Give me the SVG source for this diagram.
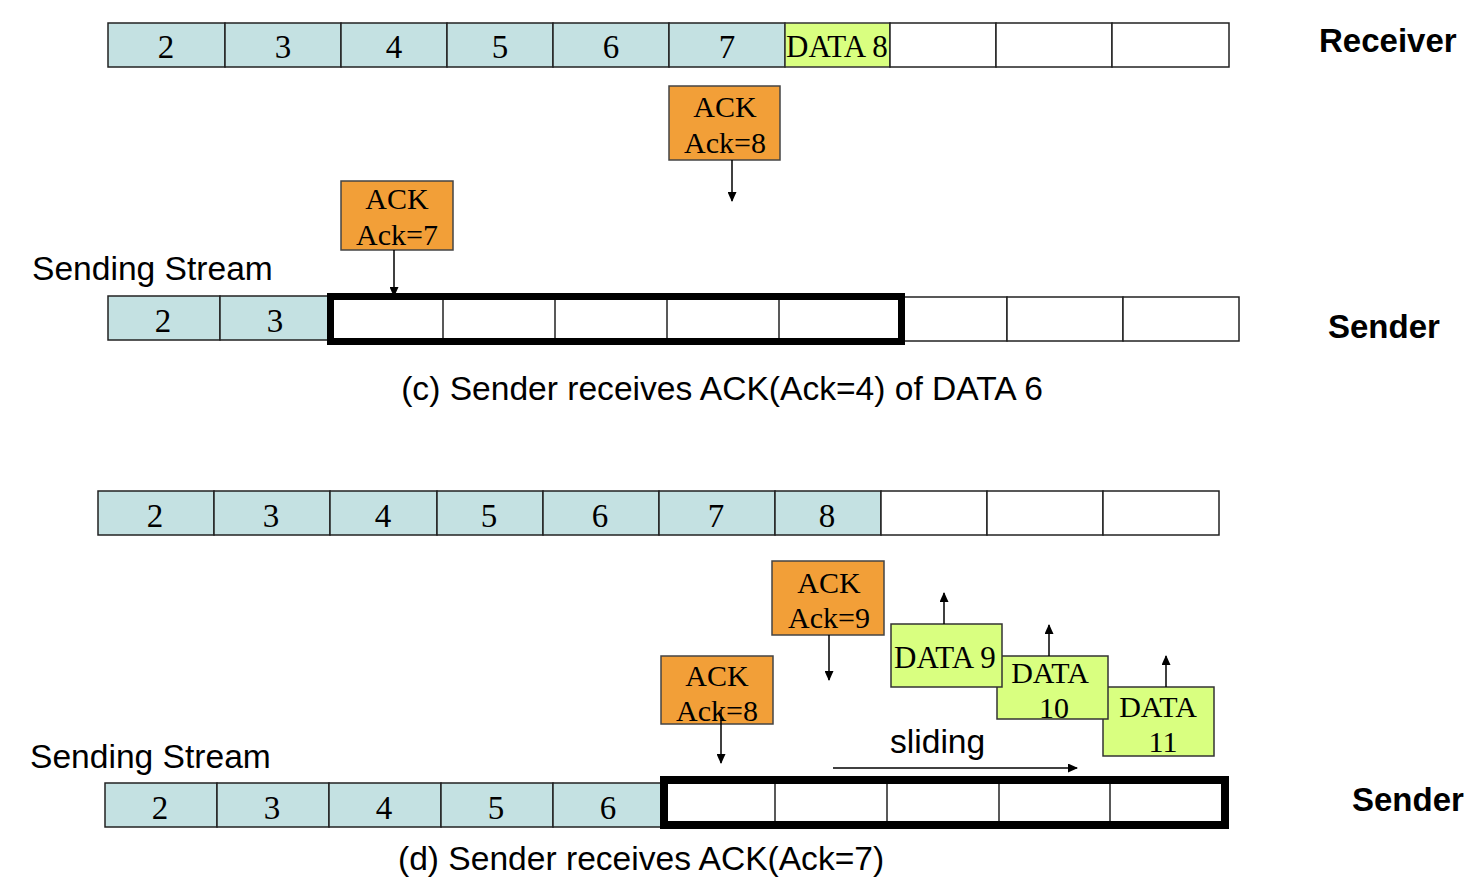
<svg xmlns="http://www.w3.org/2000/svg" width="1466" height="880" viewBox="0 0 1466 880">
<defs>
<style>
.cb{fill:#c4e1e2;stroke:#222;stroke-width:1.5}
.cw{fill:#fff;stroke:#222;stroke-width:1.5}
.cg{fill:#d9ff80;stroke:#333;stroke-width:1.5}
.co{fill:#f29f38;stroke:#444;stroke-width:1.5}
.win{fill:none;stroke:#000}
.dv{stroke:#222;stroke-width:1.5}
.s{font-family:"Liberation Serif","Times New Roman",serif;font-size:30px;fill:#000}
.n{font-size:33px}
.m{text-anchor:middle}
.a{font-family:"Liberation Sans",Arial,sans-serif;font-size:33.6px;fill:#000}
.b{font-family:"Liberation Sans",Arial,sans-serif;font-size:33px;font-weight:bold;fill:#000}
.ln{stroke:#000;stroke-width:1.5;fill:none;marker-end:url(#ah)}
</style>
<marker id="ah" viewBox="0 0 10 10" refX="9" refY="5" markerWidth="10" markerHeight="9" markerUnits="userSpaceOnUse" orient="auto" preserveAspectRatio="none">
<path d="M0,0 L10,5 L0,10 z" fill="#000"/>
</marker>
</defs>
<rect width="1466" height="880" fill="#fff"/>

<g id="recv-c">
<rect class="cb" x="108" y="23" width="117" height="44"/>
<rect class="cb" x="225" y="23" width="116" height="44"/>
<rect class="cb" x="341" y="23" width="106" height="44"/>
<rect class="cb" x="447" y="23" width="106" height="44"/>
<rect class="cb" x="553" y="23" width="116" height="44"/>
<rect class="cb" x="669" y="23" width="116" height="44"/>
<rect class="cg" x="785" y="23" width="105" height="44"/>
<rect class="cw" x="890" y="23" width="106" height="44"/>
<rect class="cw" x="996" y="23" width="116" height="44"/>
<rect class="cw" x="1112" y="23" width="117" height="44"/>
<text class="s n m" x="166" y="58">2</text>
<text class="s n m" x="283" y="58">3</text>
<text class="s n m" x="394" y="58">4</text>
<text class="s n m" x="500" y="58">5</text>
<text class="s n m" x="611" y="58">6</text>
<text class="s n m" x="727" y="58">7</text>
<text class="s" x="786" y="57" style="font-size:31px">DATA 8</text>
</g>
<text class="b" x="1319" y="52">Receiver</text>

<g id="ack8-c">
<rect class="co" x="669" y="86" width="111" height="74"/>
<text class="s m" x="725" y="117">ACK</text>
<text class="s m" x="725" y="153">Ack=8</text>
</g>
<g id="ack7-c">
<rect class="co" x="341" y="181" width="112" height="69"/>
<text class="s m" x="397" y="209">ACK</text>
<text class="s m" x="397" y="245">Ack=7</text>
</g>

<text class="a" x="32" y="280">Sending Stream</text>
<g id="send-c">
<rect class="cb" x="108" y="296" width="112" height="44"/>
<rect class="cb" x="220" y="296" width="110" height="44"/>
<text class="s n m" x="163" y="332">2</text>
<text class="s n m" x="275" y="332">3</text>
<rect class="cw" x="903" y="297" width="104" height="44"/>
<rect class="cw" x="1007" y="297" width="116" height="44"/>
<rect class="cw" x="1123" y="297" width="116" height="44"/>
<line class="dv" x1="443" y1="299" x2="443" y2="338"/>
<line class="dv" x1="555" y1="299" x2="555" y2="338"/>
<line class="dv" x1="667" y1="299" x2="667" y2="338"/>
<line class="dv" x1="779" y1="299" x2="779" y2="338"/>
<rect class="win" x="330.5" y="296.5" width="571" height="45" stroke-width="7"/>
</g>
<text class="b" x="1328" y="338">Sender</text>
<text class="a m" x="722" y="400">(c) Sender receives ACK(Ack=4) of DATA 6</text>

<g id="recv-d">
<rect class="cb" x="98" y="491" width="116" height="44"/>
<rect class="cb" x="214" y="491" width="116" height="44"/>
<rect class="cb" x="330" y="491" width="107" height="44"/>
<rect class="cb" x="437" y="491" width="106" height="44"/>
<rect class="cb" x="543" y="491" width="116" height="44"/>
<rect class="cb" x="659" y="491" width="116" height="44"/>
<rect class="cb" x="775" y="491" width="106" height="44"/>
<rect class="cw" x="881" y="491" width="106" height="44"/>
<rect class="cw" x="987" y="491" width="116" height="44"/>
<rect class="cw" x="1103" y="491" width="116" height="44"/>
<text class="s n m" x="155" y="527">2</text>
<text class="s n m" x="271" y="527">3</text>
<text class="s n m" x="383" y="527">4</text>
<text class="s n m" x="489" y="527">5</text>
<text class="s n m" x="600" y="527">6</text>
<text class="s n m" x="716" y="527">7</text>
<text class="s n m" x="827" y="527">8</text>
</g>

<g id="ack9-d">
<rect class="co" x="772" y="561" width="112" height="74"/>
<text class="s m" x="829" y="593">ACK</text>
<text class="s m" x="829" y="628">Ack=9</text>
</g>
<g id="ack8-d">
<rect class="co" x="661" y="656" width="112" height="68"/>
<text class="s m" x="717" y="686">ACK</text>
<text class="s m" x="717" y="721">Ack=8</text>
</g>
<g id="data11-d">
<rect class="cg" x="1103" y="687" width="111" height="69"/>
<text class="s m" x="1158" y="717">DATA</text>
<text class="s m" x="1163" y="752">11</text>
</g>
<g id="data10-d">
<rect class="cg" x="997" y="656" width="111" height="63"/>
<text class="s m" x="1050" y="683">DATA</text>
<text class="s m" x="1054" y="718">10</text>
</g>
<g id="data9-d">
<rect class="cg" x="891" y="624" width="111" height="63"/>
<text class="s" x="894" y="668" style="font-size:31px">DATA 9</text>
</g>

<text class="a" x="890" y="753">sliding</text>
<text class="a" x="30" y="768">Sending Stream</text>

<g id="send-d">
<rect class="cb" x="105" y="783" width="112" height="44"/>
<rect class="cb" x="217" y="783" width="112" height="44"/>
<rect class="cb" x="329" y="783" width="112" height="44"/>
<rect class="cb" x="441" y="783" width="112" height="44"/>
<rect class="cb" x="553" y="783" width="110" height="44"/>
<text class="s n m" x="160" y="819">2</text>
<text class="s n m" x="272" y="819">3</text>
<text class="s n m" x="384" y="819">4</text>
<text class="s n m" x="496" y="819">5</text>
<text class="s n m" x="608" y="819">6</text>
<line class="dv" x1="775" y1="784" x2="775" y2="821"/>
<line class="dv" x1="887" y1="784" x2="887" y2="821"/>
<line class="dv" x1="999" y1="784" x2="999" y2="821"/>
<line class="dv" x1="1110" y1="784" x2="1110" y2="821" stroke-width="2.5"/>
<rect class="win" x="664" y="780" width="561" height="45" stroke-width="8"/>
</g>
<text class="b" x="1352" y="811">Sender</text>
<text class="a" x="398" y="870">(d) Sender receives ACK(Ack=7)</text>

<g id="connectors">
<line class="ln" x1="732" y1="160" x2="732" y2="201"/>
<line class="ln" x1="394" y1="250" x2="394" y2="296"/>
<line class="ln" x1="829" y1="635" x2="829" y2="680"/>
<line class="ln" x1="721" y1="710" x2="721" y2="763"/>
<line class="ln" x1="944" y1="624" x2="944" y2="593"/>
<line class="ln" x1="1049" y1="656" x2="1049" y2="625"/>
<line class="ln" x1="1166" y1="687" x2="1166" y2="656"/>
<line class="ln" x1="833" y1="768" x2="1077" y2="768"/>
</g>
</svg>
